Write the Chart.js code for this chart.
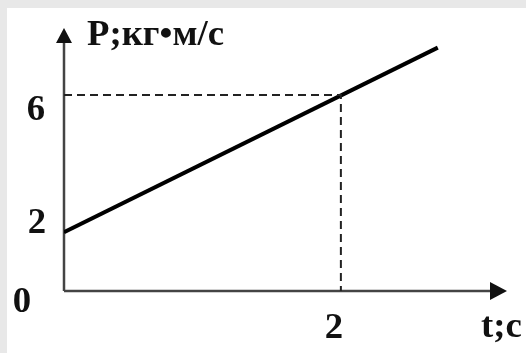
<!DOCTYPE html>
<html>
  <head>
    <meta charset="utf-8">
    <title>P(t)</title>
    <script src="https://cdn.jsdelivr.net/npm/chart.js"></script>
    <style>
      body { margin: 0; background: #e8e8e8; }
      canvas { display: block; }
    </style>
  </head>
  <body>
    <canvas id="graph" width="526" height="353"></canvas>
    <script>
      // data
      const timeValues = [0, 2.7];
      const momentumValues = [1.8, 7.45];
      const guideT = 2;
      const guideP = 6;
      const yTickLabels = ['6', '2'];
      const yTickValues = [6, 2];
      const xTickLabels = ['2'];
      const xTickValues = [2];
      const xTitle = 't;c';
      const yTitle = 'P;кг•м/с';

      const font = 'bold 35px "Liberation Serif", "DejaVu Serif", serif';
      const stretch = 1.05;

      const linePoints = timeValues.map((t, i) => ({ x: t, y: momentumValues[i] }));
      const guidePoints = [
        { x: 0, y: guideP },
        { x: guideT, y: guideP },
        { x: guideT, y: 0 }
      ];

      function wideText(c, txt, x, y, align) {
        c.save();
        c.translate(x, y);
        c.scale(stretch, 1);
        c.textAlign = align;
        c.fillText(txt, 0, 0);
        c.restore();
      }

      // white sheet with grey frame on top and left
      const sheet = {
        id: 'sheet',
        beforeDraw(chart) {
          const c = chart.ctx;
          c.save();
          c.fillStyle = '#e8e8e8';
          c.fillRect(0, 0, chart.width, chart.height);
          c.fillStyle = '#ffffff';
          c.fillRect(7, 8, chart.width - 7, chart.height - 8);
          c.restore();
        }
      };

      // axes with arrows, drawn under the line
      const arrowAxes = {
        id: 'arrowAxes',
        beforeDatasetsDraw(chart) {
          const c = chart.ctx;
          const xs = chart.scales.x, ys = chart.scales.y;
          const x0 = xs.getPixelForValue(0), y0 = ys.getPixelForValue(0);
          const xEnd = chart.chartArea.right, yEnd = chart.chartArea.top;
          c.save();
          c.strokeStyle = '#444';
          c.fillStyle = '#111';
          c.lineWidth = 2.5;
          c.beginPath();
          c.moveTo(x0, y0);
          c.lineTo(x0, yEnd + 10);
          c.moveTo(x0, y0);
          c.lineTo(xEnd - 10, y0);
          c.stroke();
          // y arrow
          c.beginPath();
          c.moveTo(x0, yEnd);
          c.lineTo(x0 - 8, yEnd + 15);
          c.lineTo(x0 + 8, yEnd + 15);
          c.closePath();
          c.fill();
          // x arrow
          c.beginPath();
          c.moveTo(xEnd, y0);
          c.lineTo(xEnd - 17, y0 - 9);
          c.lineTo(xEnd - 17, y0 + 9);
          c.closePath();
          c.fill();
          c.restore();
        },
        afterDraw(chart) {
          const c = chart.ctx;
          const xs = chart.scales.x, ys = chart.scales.y;
          const x0 = xs.getPixelForValue(0), y0 = ys.getPixelForValue(0);
          c.save();
          c.font = font;
          c.fillStyle = '#111';
          c.textBaseline = 'alphabetic';
          yTickValues.forEach((v, i) => {
            const dx = v === 6 ? 28 : 27;
            const dy = v === 6 ? 25 : 7;
            wideText(c, yTickLabels[i], x0 - dx, ys.getPixelForValue(v) + dy, 'center');
          });
          wideText(c, '0', x0 - 42, y0 + 21, 'center');
          xTickValues.forEach((v, i) => {
            wideText(c, xTickLabels[i], xs.getPixelForValue(v) - 7, y0 + 47, 'center');
          });
          wideText(c, xTitle, 481, y0 + 46, 'left');
          wideText(c, yTitle, x0 + 23, 45, 'left');
          c.restore();
        }
      };

      new Chart(document.getElementById('graph').getContext('2d'), {
        type: 'scatter',
        data: {
          datasets: [
            {
              data: guidePoints,
              showLine: true,
              borderColor: '#222',
              borderWidth: 2,
              borderDash: [8, 5],
              pointRadius: 0
            },
            {
              data: linePoints,
              showLine: true,
              borderColor: '#000',
              borderWidth: 4,
              pointRadius: 0
            }
          ]
        },
        options: {
          responsive: false,
          animation: false,
          layout: { padding: { left: 64, right: 19, top: 28, bottom: 62 } },
          scales: {
            x: { type: 'linear', min: 0, max: 3.2, display: false },
            y: { type: 'linear', min: 0, max: 8.05, display: false }
          },
          plugins: {
            legend: { display: false },
            tooltip: { enabled: false }
          }
        },
        plugins: [sheet, arrowAxes]
      });
    </script>
  </body>
</html>
